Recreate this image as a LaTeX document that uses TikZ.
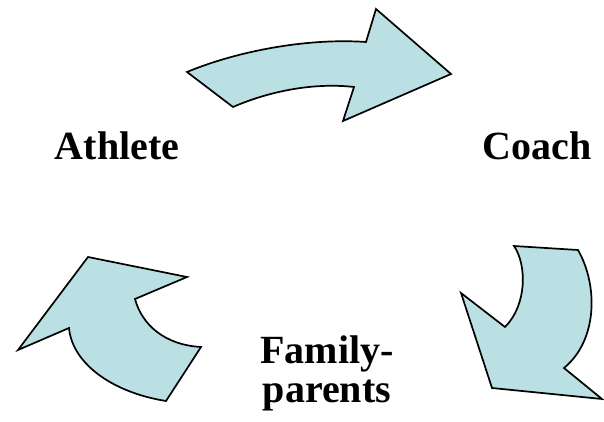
\documentclass[tikz,border=0pt]{standalone}
\usepackage{fontspec}
\setmainfont{Liberation Serif}
\definecolor{arrowfill}{RGB}{186,224,228}
\begin{document}
\begin{tikzpicture}[x=1pt,y=-1pt,
  bentarrow/.style={draw=black,fill=arrowfill,line width=1.7pt,line join=miter},
  role/.style={font=\bfseries\fontsize{40}{40}\selectfont,inner sep=0pt,align=center}]
\useasboundingbox (0,0) rectangle (604,422);

% Athlete -> Coach
\draw[bentarrow] (187,72) .. controls (240,50) and (310,38) .. (366,42)
  -- (376,9) -- (451,74) -- (343,121) -- (354,87)
  .. controls (310,82) and (265,93) .. (233,107) -- cycle;

% Coach -> Family-parents
\draw[bentarrow] (514,246) -- (578,250)
  .. controls (598,285) and (598,340) .. (564,368)
  -- (602,399) -- (492,388) -- (461,293) -- (505,327)
  .. controls (527,305) and (527,265) .. cycle;

% Family-parents -> Athlete
\draw[bentarrow] (88,257) -- (187,277) -- (135,299)
  .. controls (142,325) and (165,345) .. (201,347)
  -- (166,401) .. controls (110,392) and (72,362) .. (69,328)
  -- (18,350) -- cycle;

\node[role,anchor=base] (athlete) at (117,160) {Athlete};
\node[role,anchor=base] (coach) at (537,160) {Coach};
\node[role,anchor=base] (family) at (327,363) {Family-};
\node[role,anchor=base] (parents) at (327,402) {parents};
\end{tikzpicture}
\end{document}
